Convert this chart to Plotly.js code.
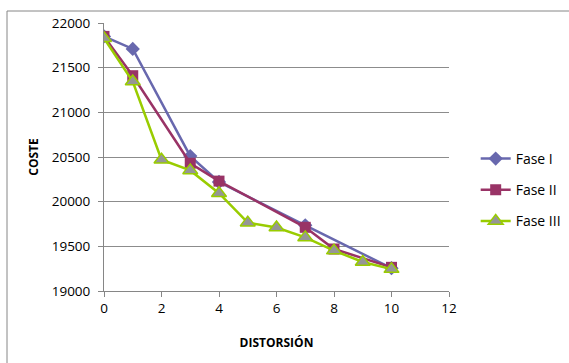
<!DOCTYPE html>
<html><head><meta charset="utf-8">
<script src="https://cdn.plot.ly/plotly-3.0.1.min.js"></script>
<style>html,body{margin:0;padding:0;background:#fff}#chart{width:569px;height:363px}</style>
</head><body><div id="chart"></div>
<script>
const fase1X = [0, 1, 3, 4, 7, 10];
const fase1Y = [21850, 21710, 20510, 20220, 19735, 19255];
const fase2X = [0, 1, 3, 4, 7, 8, 10];
const fase2Y = [21850, 21410, 20430, 20230, 19713, 19470, 19265];
const fase3X = [0, 1, 2, 3, 4, 5, 6, 7, 8, 9, 10];
const fase3Y = [21830, 21345, 20470, 20350, 20095, 19765, 19710, 19600, 19452, 19325, 19245];
const seriesNames = ['Fase I', 'Fase II', 'Fase III'];
const xTicks = [0, 2, 4, 6, 8, 10, 12];
const yTicks = [19000, 19500, 20000, 20500, 21000, 21500, 22000];

const font = {family: '"Open Sans", "Liberation Sans", sans-serif', size: 13.5, color: '#000'};
const traces = [
  {x: fase1X, y: fase1Y, name: seriesNames[0], legendgroup: 'a', mode: 'lines+markers',
   line: {color: '#6868AE', width: 2.5}, marker: {symbol: 'diamond', size: 11, color: '#6868AE'}},
  {x: fase2X, y: fase2Y, name: seriesNames[1], legendgroup: 'b', mode: 'lines+markers',
   line: {color: '#993366', width: 2.5}, marker: {symbol: 'square', size: 11, color: '#993366'}},
  {x: fase3X, y: fase3Y, name: seriesNames[2], legendgroup: 'c', mode: 'lines+markers',
   line: {color: '#99CC00', width: 2.5}, marker: {symbol: 'triangle-up', size: 13, color: '#969696', line: {color: '#99CC00', width: 1.5}}}
];
const layout = {
  width: 569, height: 363,
  margin: {l: 104, r: 120, t: 23, b: 72, autoexpand: false},
  paper_bgcolor: '#fff', plot_bgcolor: '#fff',
  font: font,
  showlegend: true,
  legend: {xref: 'container', yref: 'container', x: 0.836, y: 1 - 190 / 363, xanchor: 'left', yanchor: 'middle',
           traceorder: 'grouped', tracegroupgap: 10,
           font: {family: font.family, size: 14, color: '#000'}, bgcolor: 'rgba(0,0,0,0)'},
  xaxis: {range: [0, 12], tickvals: xTicks, ticktext: xTicks.map(String), showgrid: false, zeroline: false,
          showline: true, linecolor: '#868686', linewidth: 1, ticks: 'outside', ticklen: 5, tickcolor: '#868686',
          tickfont: font, fixedrange: true, automargin: false,
          title: {text: '<b>DISTORSIÓN</b>', font: {family: font.family, size: 12, color: '#000'}, standoff: 22}},
  yaxis: {range: [19000, 22000], tickvals: yTicks, ticktext: yTicks.map(String), showgrid: true, gridcolor: '#8C8C8C', gridwidth: 1,
          zeroline: false, showline: true, linecolor: '#868686', linewidth: 1, ticks: 'outside', ticklen: 5, tickcolor: '#868686',
          tickfont: font, fixedrange: true, automargin: false, ticklabelstandoff: 5,
          title: {text: '<b>COSTE</b>', font: {family: font.family, size: 12, color: '#000'}, standoff: 10}},
  shapes: [{type: 'rect', xref: 'paper', yref: 'paper', x0: -97 / 345, x1: 1.5, y0: -0.5, y1: 1 + 12 / 268,
            line: {color: '#868686', width: 1}, fillcolor: 'rgba(0,0,0,0)', layer: 'below'}]
};
Plotly.newPlot('chart', traces, layout, {displayModeBar: false, staticPlot: true});
</script></body></html>
